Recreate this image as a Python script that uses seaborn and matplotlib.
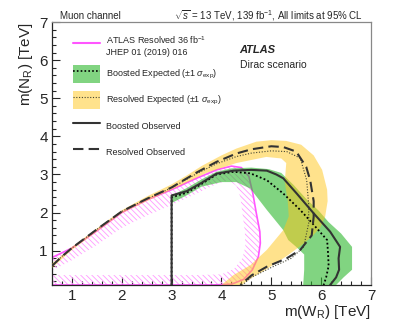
import numpy as np
import matplotlib
matplotlib.use("Agg")
import matplotlib.pyplot as plt
import seaborn as sns
from matplotlib.lines import Line2D
from matplotlib.patches import Patch
from matplotlib.legend_handler import HandlerTuple

sns.set_style("ticks")
plt.rcParams['font.family'] = ['Liberation Sans', 'DejaVu Sans']
plt.rcParams['mathtext.fontset'] = 'custom'
plt.rcParams['mathtext.rm'] = 'Liberation Sans'
plt.rcParams['mathtext.it'] = 'Liberation Sans:italic'
plt.rcParams['mathtext.bf'] = 'Liberation Sans:bold'
plt.rcParams['hatch.linewidth'] = 0.6

# ---- contours, (m(W_R), m(N_R)) in TeV ----
# resolved expected +-1 sigma band: outer edge then inner edge
res_band_out_x = [0.6, 1.0, 1.5, 2.0, 2.5, 3.0, 3.3, 3.6, 4.0, 4.3, 4.7, 5.0, 5.3, 5.6, 5.85, 6.02, 6.12, 6.13, 6.08, 5.98, 5.8, 5.58, 5.31, 4.91, 4.6, 4.4]
res_band_out_y = [0.66, 1.1, 1.58, 2.06, 2.42, 2.74, 2.97, 3.22, 3.5, 3.68, 3.86, 3.9, 3.88, 3.78, 3.5, 3.12, 2.6, 2.3, 1.89, 1.6, 1.35, 1.12, 0.86, 0.52, 0.28, 0.1]
res_band_in_x = [4.0, 4.24, 4.58, 4.91, 5.24, 5.35, 5.33, 5.27, 5.3, 5.2, 4.9, 4.3, 3.7, 3.0, 2.5, 2.0, 1.5, 1.0, 0.6]
res_band_in_y = [0.1, 0.36, 0.62, 1.02, 1.54, 1.9, 2.3, 2.8, 3.3, 3.42, 3.46, 3.3, 3.04, 2.6, 2.3, 1.98, 1.5, 1.02, 0.55]

# boosted expected +-1 sigma band
boo_band_out_x = [3.0, 3.3, 3.6, 3.9, 4.2, 4.6, 4.95, 5.2, 5.45, 5.7, 5.95, 6.15, 6.4, 6.62, 6.62, 6.45, 6.3]
boo_band_out_y = [2.45, 2.64, 2.87, 3.07, 3.16, 3.18, 3.14, 3.04, 2.72, 2.36, 2.05, 1.75, 1.45, 1.1, 0.5, 0.3, 0.1]
boo_band_in_x = [5.64, 5.66, 5.66, 5.5, 5.34, 5.24, 4.91, 4.58, 4.3, 4.0, 3.6, 3.3, 3.0]
boo_band_in_y = [0.1, 0.5, 0.9, 1.1, 1.28, 1.54, 2.07, 2.63, 2.8, 2.8, 2.68, 2.45, 2.25]

# observed / expected limit lines
boo_obs_x = [3.0, 3.0, 3.3, 3.6, 3.9, 4.24, 4.6, 4.91, 5.1, 5.24, 5.51, 5.85, 6.18, 6.38, 6.35, 6.36, 6.3, 6.18]
boo_obs_y = [0.1, 2.45, 2.56, 2.78, 3.02, 3.1, 3.12, 3.1, 3.0, 2.9, 2.5, 1.98, 1.5, 1.1, 0.8, 0.5, 0.3, 0.1]
boo_exp_x = [3.0, 3.0, 3.3, 3.6, 3.9, 4.24, 4.58, 4.91, 5.24, 5.58, 5.85, 6.12, 6.14, 6.15, 6.1, 6.05]
boo_exp_y = [0.1, 2.4, 2.52, 2.75, 3.0, 3.07, 3.03, 2.85, 2.5, 2.07, 1.68, 1.28, 0.9, 0.6, 0.3, 0.1]
res_obs_x = [0.6, 0.8, 1.0, 1.5, 2.0, 2.5, 3.0, 3.5, 3.9, 4.3, 4.6, 5.0, 5.24, 5.5, 5.7, 5.78, 5.85, 5.85, 5.81, 5.58, 5.31, 4.91, 4.6, 4.38]
res_obs_y = [0.6, 0.85, 1.07, 1.56, 2.03, 2.36, 2.66, 3.05, 3.33, 3.55, 3.66, 3.74, 3.72, 3.6, 3.2, 2.85, 2.3, 1.89, 1.4, 1.02, 0.8, 0.58, 0.35, 0.1]
res_exp_x = [0.6, 0.8, 1.0, 1.5, 2.0, 2.5, 3.0, 3.5, 3.9, 4.3, 4.6, 5.0, 5.31, 5.58, 5.71, 5.75, 5.75, 5.65, 5.4, 5.0, 4.6, 4.42]
res_exp_y = [0.6, 0.85, 1.07, 1.56, 2.03, 2.36, 2.65, 3.02, 3.28, 3.47, 3.56, 3.62, 3.6, 3.43, 2.85, 2.2, 1.72, 1.1, 0.8, 0.56, 0.3, 0.1]

# ATLAS resolved 36 fb-1 contour and inner edge of its hatching
mag_x = [0.6, 1.0, 1.5, 2.0, 2.5, 3.0, 3.5, 3.9, 4.2, 4.4, 4.55, 4.63, 4.7, 4.77, 4.78, 4.74, 4.62, 4.45, 4.2, 3.8, 3.0, 2.0, 1.0, 0.6]
mag_y = [0.82, 1.07, 1.52, 2.0, 2.33, 2.6, 2.9, 3.12, 3.22, 3.18, 2.95, 2.5, 1.98, 1.5, 1.2, 0.84, 0.5, 0.25, 0.12, 0.1, 0.1, 0.1, 0.1, 0.1]
mag_in_x = [0.6, 0.6, 1.5, 2.5, 3.5, 4.0, 4.25, 4.42, 4.48, 4.47, 4.42, 4.38, 4.3, 4.15, 3.9, 3.5, 3.0, 2.5, 2.0, 1.5, 1.0, 0.6]
mag_in_y = [0.36, 0.36, 0.36, 0.36, 0.36, 0.38, 0.52, 0.8, 1.1, 1.5, 2.0, 2.4, 2.7, 2.85, 2.75, 2.5, 2.2, 1.92, 1.6, 1.15, 0.75, 0.48]

yellow = "#ffc61a"
green = "#2eb82e"
magenta = "#ff55ff"
dark = "#333333"

fig = plt.figure(figsize=(3.99, 3.28), dpi=100)
ax = fig.add_axes([0.1303, 0.1311, 0.7995, 0.8018])

# hatched 36 fb-1 exclusion
ax.fill(mag_x + mag_in_x, mag_y + mag_in_y,
        facecolor="none", edgecolor="#ff99ff", hatch="\\\\\\\\\\\\", linewidth=0, zorder=2)

ax.fill(boo_band_out_x + boo_band_in_x, boo_band_out_y + boo_band_in_y,
        color=green, alpha=0.6, linewidth=0, zorder=3)
ax.fill(res_band_out_x + res_band_in_x, res_band_out_y + res_band_in_y,
        color=yellow, alpha=0.5, linewidth=0, zorder=4)

sns.lineplot(x=mag_x, y=mag_y, sort=False, estimator=None, color=magenta, lw=1.2, ax=ax, zorder=2.5)
sns.lineplot(x=boo_exp_x, y=boo_exp_y, sort=False, estimator=None, color="black",
             lw=1.3, linestyle=(0, (1.0, 1.3)), ax=ax, zorder=6)
sns.lineplot(x=res_exp_x, y=res_exp_y, sort=False, estimator=None, color="#444433",
             lw=0.8, linestyle=(0, (1.0, 1.5)), ax=ax, zorder=6)
sns.lineplot(x=boo_obs_x, y=boo_obs_y, sort=False, estimator=None, color=dark,
             lw=1.5, ax=ax, zorder=7)
sns.lineplot(x=res_obs_x, y=res_obs_y, sort=False, estimator=None, color=dark,
             lw=1.5, linestyle=(0, (5, 2.5)), ax=ax, zorder=7)

ax.set_xlim(0.6, 7)
ax.set_ylim(0.1, 7)
ax.set_xticks([1, 2, 3, 4, 5, 6, 7])
ax.set_yticks([1, 2, 3, 4, 5, 6, 7])
ax.set_xticks(np.arange(0.6, 7.01, 0.2), minor=True)
ax.set_yticks(np.arange(0.2, 7.01, 0.2), minor=True)
ax.tick_params(which="both", direction="in", top=False, right=False, labelsize=11, pad=3)
ax.tick_params(which="major", length=6, width=0.8)
ax.tick_params(which="minor", length=3, width=0.8)
for s in ["top", "right"]:
    ax.spines[s].set_color("#888888")
for s in ax.spines.values():
    s.set_linewidth(0.9)

ax.set_xlabel("m(W$_{\\mathrm{R}}$) [TeV]", fontsize=11, loc="right")
ax.set_ylabel("m(N$_{\\mathrm{R}}$) [TeV]", fontsize=11, loc="top")
ax.xaxis.set_label_coords(1.0, -0.068)
ax.yaxis.set_label_coords(-0.052, 1.0)

handles = [
    Line2D([], [], color=magenta, lw=1.5),
    (Patch(facecolor=green, alpha=0.6, lw=0), Line2D([], [], color="black", lw=1.2, linestyle=(0, (1.0, 1.3)))),
    (Patch(facecolor=yellow, alpha=0.5, lw=0), Line2D([], [], color="#444433", lw=0.8, linestyle=(0, (1.0, 1.5)))),
    Line2D([], [], color=dark, lw=1.5),
    Line2D([], [], color=dark, lw=1.5, linestyle=(0, (5, 2.5))),
]
labels = [
    "ATLAS Resolved 36 fb$^{-1}$\nJHEP 01 (2019) 016",
    "Boosted Expected (\u00b11 $\\sigma_{\\mathrm{exp}}$)",
    "Resolved Expected (\u00b11 $\\sigma_{\\mathrm{exp}}$)",
    "Boosted Observed",
    "Resolved Observed",
]
leg = ax.legend(handles, labels, loc="upper left", bbox_to_anchor=(0.065, 0.952), frameon=False,
                fontsize=6.5, handlelength=3.0, handleheight=2.6, handletextpad=0.7,
                labelspacing=0.95, borderaxespad=0, borderpad=0,
                handler_map={tuple: HandlerTuple(ndivide=1, pad=0)})

ax.text(0.588, 0.895, "ATLAS", transform=ax.transAxes, fontsize=8, fontweight="bold",
        fontstyle="italic", va="center")
ax.text(0.588, 0.835, "Dirac scenario", transform=ax.transAxes, fontsize=7.5, va="center")

fig.text(60 / 399, 1 - 16 / 328, "Muon channel", fontsize=7, va="center", ha="left")
fig.text(363 / 399, 1 - 16 / 328, "$\\sqrt{s}$ = 13 TeV, 139 fb$^{-1}$, All limits at 95% CL",
         fontsize=7, va="center", ha="right")

fig.savefig("out.png", dpi=100)
